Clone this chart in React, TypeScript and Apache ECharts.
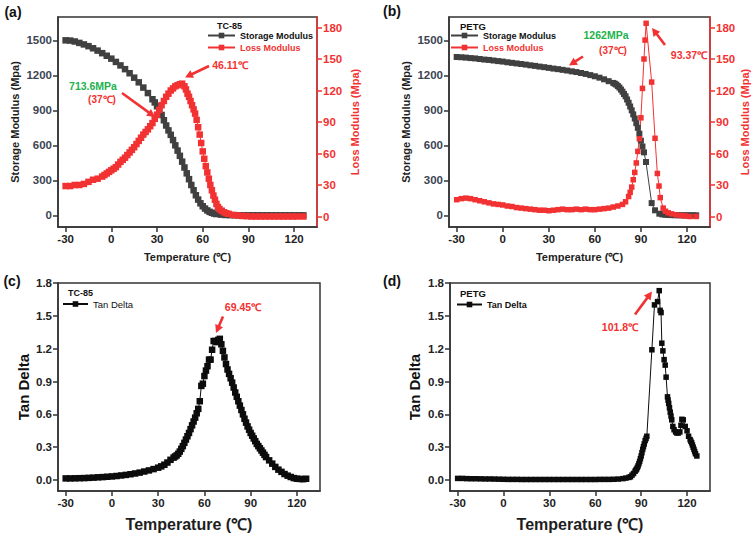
import React, { useEffect, useRef } from "react";
import * as echarts from "echarts";

// ---------- tick labels ----------
const tempTicks = [-30, 0, 30, 60, 90, 120];
const modulusTicks = [0, 300, 600, 900, 1200, 1500];
const lossTicks = [0, 30, 60, 90, 120, 150, 180];
const tanTicks = [0, 0.3, 0.6, 0.9, 1.2, 1.5, 1.8];

// ---------- (a) TC-85 storage modulus ----------
const tcStorageT = [-30, -27, -24, -21, -18, -15, -12, -9, -6, -3, 0, 3, 6, 9, 12, 15, 18, 21, 24, 27, 28.5, 30, 31.5, 33, 34.5, 36, 37.5, 39, 40.5, 42, 43.5, 45, 46.5, 48, 49.5, 51, 52.5, 54, 55.5, 57, 58.5, 60, 61.5, 63, 64.5, 66, 67.5, 69, 72, 75, 78, 81, 84, 87, 90, 93, 96, 99, 102, 105, 108, 111, 114, 117, 120, 123, 126];
const tcStorage = [1500, 1498, 1490, 1478, 1465, 1450, 1432, 1412, 1390, 1368, 1343, 1315, 1285, 1253, 1218, 1180, 1140, 1095, 1048, 995, 968, 935, 900, 860, 815, 770, 728, 690, 645, 600, 555, 510, 460, 410, 360, 310, 260, 215, 172, 135, 103, 78, 58, 42, 30, 22, 15, 11, 6, 3, 2, 1, 0, 0, 0, 0, 0, 0, 0, 0, 0, 0, 0, 0, 0, 0, 0];

// ---------- (a) TC-85 loss modulus ----------
const tcLossT = [-30, -27, -24, -21, -18, -15, -12, -9, -6, -4.5, -3, -1.5, 0, 1.5, 3, 4.5, 6, 7.5, 9, 10.5, 12, 13.5, 15, 16.5, 18, 19.5, 21, 22.5, 24, 25.5, 27, 28.5, 30, 31.5, 33, 34.5, 36, 37.5, 39, 40.5, 42, 43.5, 45, 46.5, 48, 49, 50, 51, 52, 53, 54, 55, 56, 57, 58, 59, 60, 61, 62, 63, 64, 65, 66, 67, 68, 69, 70, 71, 72.5, 74, 75.5, 77, 80, 83, 86, 89, 92, 95, 98, 101, 104, 107, 110, 113, 116, 119, 122, 126];
const tcLoss = [29, 29, 30, 30, 31, 33, 35, 36, 38, 39.5, 41, 42.5, 44, 45.5, 47, 49.5, 52, 54, 56, 58.5, 61, 63.5, 66, 69, 72, 75, 78, 80.5, 83, 86, 89, 93, 97, 101.5, 106, 110, 114, 117, 120, 122, 124, 125, 126, 126.5, 124, 121, 117, 114, 110, 106, 102, 98, 92, 85, 78, 70, 62, 55, 48, 42, 36, 30, 25, 20, 16, 12, 9, 7, 5.5, 4, 3, 2.5, 1.5, 1, 0.5, 0.3, 0, 0, 0, 0, 0, 0, 0, 0, 0, 0, 0, 0];

// ---------- (b) PETG storage modulus ----------
const petgStorageT = [-30, -27, -24, -21, -18, -15, -12, -9, -6, -3, 0, 3, 6, 9, 12, 15, 18, 21, 24, 27, 30, 33, 36, 39, 42, 45, 48, 51, 54, 57, 60, 63, 66, 69, 72, 73, 74, 75, 76, 77, 78, 79, 80, 81, 82, 83, 84, 85, 86, 87, 88, 89, 90, 91, 92, 93.3, 97, 99.2, 102, 104, 106, 108, 110, 112, 114, 116, 118, 120, 122, 124, 126];
const petgStorage = [1357, 1355, 1352, 1348, 1345, 1340, 1335, 1332, 1327, 1322, 1318, 1312, 1307, 1302, 1297, 1292, 1286, 1281, 1275, 1270, 1264, 1258, 1253, 1247, 1241, 1234, 1228, 1220, 1212, 1202, 1192, 1180, 1166, 1150, 1135, 1128, 1120, 1108, 1095, 1078, 1060, 1040, 1020, 993, 965, 933, 900, 865, 830, 790, 750, 700, 640, 590, 540, 457, 105, 43, 14, 8, 5, 3, 2, 1, 1, 0, 0, 0, 0, 0, 0];

// ---------- (b) PETG loss modulus ----------
const petgLossT = [-30, -27, -24, -21, -18, -15, -12, -9, -6, -3, 0, 3, 6, 9, 12, 15, 18, 21, 24, 27, 30, 33, 36, 39, 42, 45, 48, 51, 54, 57, 60, 63, 66, 69, 72, 75, 78, 80, 82, 83, 84, 85, 86, 87, 88, 89, 90, 91, 92, 92.7, 93.4, 97, 99.2, 100.7, 101.8, 102.6, 104.5, 106, 107.8, 110, 113, 116, 119, 122, 126];
const petgLoss = [16, 17, 17.5, 17, 16, 15, 14, 13, 12, 11.5, 11, 10, 9.5, 8.5, 8, 7.5, 7, 6.5, 6, 6, 5.5, 6, 6.5, 7, 6.5, 6.5, 7, 6.5, 7, 6.5, 6.5, 7, 7.5, 8, 9, 10, 11.5, 14, 19, 23, 28, 35, 42, 51, 62, 74, 94, 122, 150, 168, 184, 128, 74.5, 41, 29, 18, 8, 5, 3.5, 2.5, 1.5, 1, 0.5, 0, 0];

// ---------- (c) TC-85 tan delta ----------
const tcTanT = [-30, -27, -24, -21, -18, -15, -12, -9, -6, -3, 0, 3, 6, 9, 12, 15, 18, 21, 24, 27, 30, 32, 34, 36, 38, 40, 41, 42, 43, 44, 45, 46, 47, 48, 49, 50, 51, 52, 53, 54, 55, 56, 57, 58, 59, 60, 61, 62, 63, 64, 65, 66, 67, 68, 69, 70, 71, 72, 73, 74, 75, 76, 77, 78, 79, 80, 81, 82, 83, 84, 85, 86, 87, 88, 89, 90, 91, 92, 93, 94, 95, 96, 97, 98, 99, 100, 102, 104, 106, 108, 110, 112, 114, 116, 118, 120, 122, 124, 126];
const tcTan = [0.015, 0.015, 0.016, 0.017, 0.018, 0.02, 0.022, 0.025, 0.027, 0.03, 0.033, 0.037, 0.042, 0.047, 0.053, 0.06, 0.068, 0.078, 0.088, 0.1, 0.113, 0.125, 0.14, 0.16, 0.185, 0.205, 0.215, 0.225, 0.24, 0.26, 0.285, 0.31, 0.34, 0.37, 0.4, 0.43, 0.465, 0.5, 0.535, 0.57, 0.61, 0.65, 0.72, 0.86, 0.88, 0.95, 1.0, 1.04, 1.1, 1.1, 1.19, 1.27, 1.27, 1.26, 1.28, 1.29, 1.24, 1.18, 1.12, 1.06, 1.01, 0.97, 0.93, 0.89, 0.845, 0.8, 0.76, 0.72, 0.68, 0.64, 0.6, 0.56, 0.525, 0.49, 0.46, 0.43, 0.405, 0.38, 0.355, 0.33, 0.31, 0.29, 0.27, 0.25, 0.23, 0.21, 0.18, 0.15, 0.12, 0.095, 0.075, 0.055, 0.04, 0.028, 0.018, 0.012, 0.01, 0.008, 0.012];

// ---------- (d) PETG tan delta ----------
const petgTanT = [-30, -27, -24, -21, -18, -15, -12, -9, -6, -3, 0, 3, 6, 9, 12, 15, 18, 21, 24, 27, 30, 33, 36, 39, 42, 45, 48, 51, 54, 57, 60, 63, 66, 69, 72, 75, 78, 80, 82, 83, 84, 85, 86, 86.5, 87, 87.5, 88, 88.5, 89, 89.5, 90, 90.5, 91, 91.5, 92, 92.6, 93.2, 93.7, 97, 98.7, 100.7, 101.8, 102.4, 103, 103.5, 104.2, 105, 105.7, 106.3, 107.2, 107.6, 108, 108.5, 109, 109.5, 110, 110.7, 111.5, 112.5, 113.3, 114.3, 115.3, 116, 116.6, 117.5, 118.8, 120, 121, 122, 122.5, 123, 123.5, 124, 124.5, 125, 125.5, 126.4];
const petgTan = [0.015, 0.015, 0.013, 0.012, 0.012, 0.011, 0.01, 0.01, 0.009, 0.008, 0.007, 0.006, 0.006, 0.006, 0.005, 0.005, 0.005, 0.005, 0.005, 0.005, 0.005, 0.005, 0.005, 0.005, 0.005, 0.005, 0.005, 0.005, 0.005, 0.005, 0.005, 0.006, 0.006, 0.006, 0.007, 0.009, 0.013, 0.018, 0.024, 0.03, 0.045, 0.06, 0.08, 0.09, 0.1, 0.115, 0.13, 0.15, 0.17, 0.195, 0.22, 0.25, 0.28, 0.305, 0.33, 0.36, 0.38, 0.4, 1.19, 1.6, 1.63, 1.73, 1.55, 1.53, 1.25, 1.18, 1.1, 1.05, 0.94, 0.76, 0.73, 0.7, 0.66, 0.62, 0.585, 0.55, 0.49, 0.46, 0.44, 0.43, 0.43, 0.44, 0.5, 0.555, 0.55, 0.49, 0.45, 0.4, 0.37, 0.355, 0.34, 0.32, 0.3, 0.28, 0.26, 0.24, 0.22];

// ---------- styling ----------
const FONT = '"Liberation Sans", Arial, Helvetica, sans-serif';
const RED = "#f23232";
const DARK = "#404040";
const BLACK = "#0c0c0c";
const GREEN = "#22b24c";
const AXIS = "#333333";

const pairs = (xs: number[], ys: number[]) => xs.map((x, i) => [x, ys[i]]);

function arrow(x1: number, y1: number, x2: number, y2: number, color = RED) {
  const dx = x2 - x1;
  const dy = y2 - y1;
  const len = Math.hypot(dx, dy);
  const ux = dx / len;
  const uy = dy / len;
  const hl = 8;
  const hw = 4.2;
  const bx = x2 - ux * hl;
  const by = y2 - uy * hl;
  const px = -uy;
  const py = ux;
  return [
    { type: "line", shape: { x1, y1, x2: bx + ux, y2: by + uy }, style: { stroke: color, lineWidth: 2.6 } },
    {
      type: "polygon",
      shape: { points: [[x2, y2], [bx + px * hw, by + py * hw], [bx - px * hw, by - py * hw]] },
      style: { fill: color },
    },
  ];
}

function txt(text: string, x: number, y: number, size: number, color: string, align = "center", weight = "bold") {
  return {
    type: "text",
    x,
    y,
    style: { text, fill: color, fontSize: size, fontWeight: weight, fontFamily: FONT, align, verticalAlign: "middle" },
  };
}

function xAxis(gridIndex: number, nameSize: number, nameGap: number, labelSize: number) {
  return {
    type: "value",
    gridIndex,
    min: -35,
    max: 135,
    name: "Temperature (℃)",
    nameLocation: "middle",
    nameGap,
    nameTextStyle: { fontWeight: "bold", fontSize: nameSize, color: "#1e1e1e", fontFamily: FONT },
    axisLine: { show: true, onZero: false, lineStyle: { color: AXIS, width: 1.5 } },
    axisTick: { show: true, length: 5, customValues: tempTicks, lineStyle: { color: AXIS, width: 1.5 } },
    axisLabel: { customValues: tempTicks, fontWeight: "bold", fontSize: labelSize, color: "#222", margin: 6, fontFamily: FONT },
    splitLine: { show: false },
  };
}

function yAxis(opts: any) {
  const { gridIndex, min, max, ticks, name, nameSize, nameGap, color, labelColor, position, labelSize, digits } = opts;
  return {
    type: "value",
    gridIndex,
    min,
    max,
    position,
    name,
    nameLocation: "middle",
    nameGap,
    nameTextStyle: { fontWeight: "bold", fontSize: nameSize, color, fontFamily: FONT },
    axisLine: { show: true, onZero: false, lineStyle: { color: position === "right" ? color : AXIS, width: 1.5 } },
    axisTick: { show: true, length: 5, customValues: ticks, lineStyle: { color: position === "right" ? color : AXIS, width: 1.5 } },
    axisLabel: {
      customValues: ticks,
      fontWeight: "bold",
      fontSize: labelSize,
      color: labelColor,
      margin: 6,
      fontFamily: FONT,
      formatter: (v: number) => (digits ? v.toFixed(digits) : String(v)),
    },
    splitLine: { show: false },
  };
}

function lineSeries(name: string, xi: number, yi: number, data: number[][], color: string, size: number, lw = 1) {
  return {
    type: "line",
    name,
    xAxisIndex: xi,
    yAxisIndex: yi,
    data,
    symbol: "rect",
    symbolSize: size,
    showAllSymbol: true,
    lineStyle: { color, width: lw },
    itemStyle: { color },
  };
}

export default function App() {
  const ref = useRef<HTMLDivElement>(null);

  useEffect(() => {
    if (!ref.current) return;
    const chart = echarts.init(ref.current, null, { renderer: "svg" });
    const gridBase = { show: true, borderColor: AXIS, borderWidth: 1.5, backgroundColor: "transparent" };
    const legendBase = {
      orient: "vertical",
      itemWidth: 27,
      itemHeight: 7,
      itemGap: 3,
      padding: 0,
      selectedMode: false,
      textStyle: { fontWeight: "bold", fontSize: 9, fontFamily: FONT, color: "#111" },
    };

    const option: any = {
      animation: false,
      backgroundColor: "#ffffff",
      textStyle: { fontFamily: FONT },
      grid: [
        { ...gridBase, left: 58, top: 17, width: 259, height: 210 },
        { ...gridBase, left: 449, top: 17, width: 261, height: 210 },
        { ...gridBase, left: 58, top: 283, width: 262, height: 208 },
        { ...gridBase, left: 450, top: 283, width: 260, height: 208 },
      ],
      xAxis: [xAxis(0, 11, 24, 11.5), xAxis(1, 11, 24, 11.5), xAxis(2, 16, 25, 11.5), xAxis(3, 16, 25, 11.5)],
      yAxis: [
        yAxis({ gridIndex: 0, min: -100, max: 1700, ticks: modulusTicks, name: "Storage Modulus (Mpa)", nameSize: 11, nameGap: 38, color: "#1e1e1e", labelColor: "#3c4454", position: "left", labelSize: 11.5 }),
        yAxis({ gridIndex: 0, min: -10, max: 190, ticks: lossTicks, name: "Loss Modulus (Mpa)", nameSize: 11, nameGap: 32, color: RED, labelColor: RED, position: "right", labelSize: 11.5 }),
        yAxis({ gridIndex: 1, min: -100, max: 1700, ticks: modulusTicks, name: "Storage Modulus (Mpa)", nameSize: 11, nameGap: 38, color: "#1e1e1e", labelColor: "#3c4454", position: "left", labelSize: 11.5 }),
        yAxis({ gridIndex: 1, min: -10, max: 190, ticks: lossTicks, name: "Loss Modulus (Mpa)", nameSize: 11, nameGap: 28, color: RED, labelColor: RED, position: "right", labelSize: 11.5 }),
        yAxis({ gridIndex: 2, min: -0.1, max: 1.8, ticks: tanTicks, name: "Tan Delta", nameSize: 15, nameGap: 27, color: "#111", labelColor: "#222", position: "left", labelSize: 11.5, digits: 1 }),
        yAxis({ gridIndex: 3, min: -0.1, max: 1.8, ticks: tanTicks, name: "Tan Delta", nameSize: 15, nameGap: 28, color: "#111", labelColor: "#222", position: "left", labelSize: 11.5, digits: 1 }),
      ],
      legend: [
        { ...legendBase, left: 207, top: 31, data: [{ name: "Storage Modulus", textStyle: { color: "#111" } }, { name: "Loss Modulus", textStyle: { color: RED } }] },
        { ...legendBase, left: 450, top: 31, data: [{ name: "Storage Modulus", textStyle: { color: "#111" } }, { name: "Loss Modulus", textStyle: { color: RED } }] },
        { ...legendBase, left: 62, top: 299, itemWidth: 25, data: [{ name: "Tan Delta" }], textStyle: { fontWeight: "normal", fontSize: 9.5, fontFamily: FONT, color: "#111" } },
        { ...legendBase, left: 456, top: 300, itemWidth: 25, data: [{ name: "Tan Delta" }] },
      ],
      series: [
        lineSeries("Storage Modulus", 0, 0, pairs(tcStorageT, tcStorage), DARK, 6.5),
        lineSeries("Loss Modulus", 0, 1, pairs(tcLossT, tcLoss), RED, 6.5),
        lineSeries("Storage Modulus", 1, 2, pairs(petgStorageT, petgStorage), DARK, 6),
        lineSeries("Loss Modulus", 1, 3, pairs(petgLossT, petgLoss), RED, 5.5),
        lineSeries("Tan Delta", 2, 4, pairs(tcTanT, tcTan), BLACK, 6.5),
        lineSeries("Tan Delta", 3, 5, pairs(petgTanT, petgTan), BLACK, 5.5),
      ],
      graphic: [
        txt("(a)", 13, 12, 14, "#111"),
        txt("(b)", 392, 11, 14, "#111"),
        txt("(c)", 12, 281, 14, "#111"),
        txt("(d)", 392, 281, 14, "#111"),
        txt("TC-85", 217, 25.5, 9, "#111", "left"),
        txt("PETG", 460, 26, 9.5, "#111", "left"),
        txt("TC-85", 68, 293, 9, "#111", "left"),
        txt("PETG", 460, 293, 9.5, "#111", "left"),
        txt("46.11℃", 230, 65, 10.5, RED),
        txt("713.6MPa", 93, 86, 10.5, GREEN),
        txt("(37℃)", 102, 99, 10, RED),
        txt("1262MPa", 606, 35, 10.5, GREEN),
        txt("(37℃)", 613, 50, 10, RED),
        txt("93.37℃", 689, 55, 10.5, RED),
        txt("69.45℃", 243, 307, 10.5, RED),
        txt("101.8℃", 620, 327, 10.5, RED),
        ...arrow(209, 66, 185, 77.5),
        ...arrow(122, 93, 155, 117),
        ...arrow(583, 56.5, 569, 65.5),
        ...arrow(665, 45, 652, 28),
        ...arrow(223, 316.5, 216, 333),
        ...arrow(635, 314.5, 652, 291.5),
      ],
    };

    chart.setOption(option);
    return () => chart.dispose();
  }, []);

  return (
    <div
      ref={ref}
      style={{ position: "fixed", left: 0, top: 0, width: 755, height: 539, background: "#fff" }}
    />
  );
}
